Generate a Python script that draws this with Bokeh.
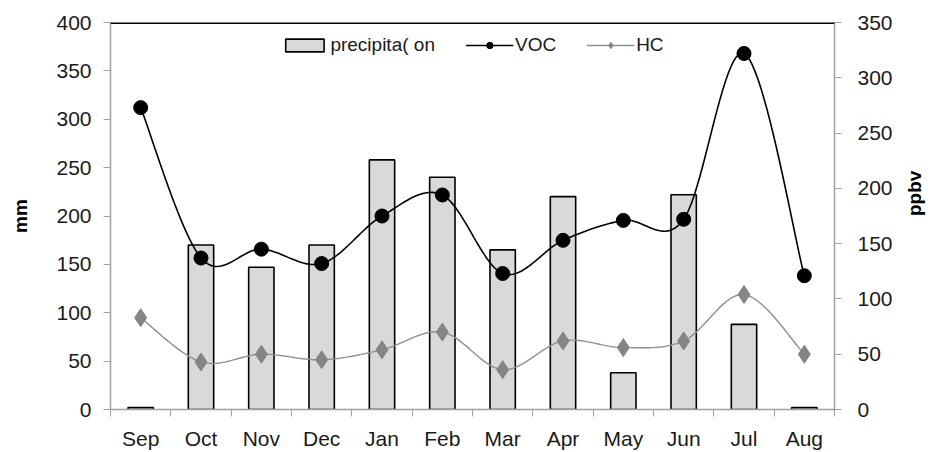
import math
import numpy as np
from bokeh.plotting import figure
from bokeh.models import (Range1d, LinearAxis, FixedTicker, Span, Legend,
                          LegendItem, ColumnDataSource)
from bokeh.embed import file_html
from bokeh.resources import INLINE

# ---- data ----
months = ["Sep", "Oct", "Nov", "Dec", "Jan", "Feb", "Mar", "Apr", "May", "Jun", "Jul", "Aug"]
precipitation = [2, 170, 147, 170, 258, 240, 165, 220, 38, 222, 88, 2]
voc = [273, 137, 145, 132, 175, 194, 123, 153, 171, 172, 322, 121]
hc = [83, 43, 50, 45, 54, 70, 36, 62, 56, 62, 104, 50]
mm_ticks = [0, 50, 100, 150, 200, 250, 300, 350, 400]
ppbv_ticks = [0, 50, 100, 150, 200, 250, 300, 350]

xpos = list(range(1, len(months) + 1))


def smooth(xs, ys, n=24):
    """Excel-style smoothed line (Catmull-Rom as cubic Bezier)."""
    P = np.column_stack([xs, ys]).astype(float)
    m = len(P)
    out = []
    for i in range(m - 1):
        p0 = P[i - 1] if i > 0 else P[i]
        p1 = P[i]
        p2 = P[i + 1]
        p3 = P[i + 2] if i + 2 < m else P[i + 1]
        c1 = p1 + (p2 - p0) / 6.0
        c2 = p2 - (p3 - p1) / 6.0
        t = np.linspace(0, 1, n)[:, None]
        seg = ((1 - t) ** 3) * p1 + 3 * ((1 - t) ** 2) * t * c1 + 3 * (1 - t) * t ** 2 * c2 + t ** 3 * p2
        if i > 0:
            seg = seg[1:]
        out.append(seg)
    out = np.vstack(out)
    return out[:, 0], out[:, 1]


FONT = "Liberation Sans"
TXT = "#1a1a1a"
AX = "#a0a0a0"

p = figure(width=939, height=452, output_backend="svg", toolbar_location=None,
           x_range=Range1d(0.5, 12.5), y_range=Range1d(0, 400),
           min_border_left=110, min_border_right=105, min_border_top=22, min_border_bottom=42)
p.outline_line_color = None
p.xgrid.visible = False
p.ygrid.visible = False
p.background_fill_color = "white"
p.border_fill_color = "white"

p.extra_y_ranges = {"ppbv": Range1d(0, 350)}

# bars
src = ColumnDataSource(dict(x=xpos, top=precipitation))
bars = p.vbar(x="x", top="top", width=0.42, source=src, fill_color="#d9d9d9",
              line_color="black", line_width=1.6)

# VOC
vx, vy = smooth(xpos, voc)
voc_line = p.line(vx, vy, line_color="black", line_width=1.6, y_range_name="ppbv")
voc_pts = p.scatter(xpos, voc, marker="circle", size=14, fill_color="black",
                    line_color="black", y_range_name="ppbv")

# HC
hx, hy = smooth(xpos, hc)
hc_line = p.line(hx, hy, line_color="#8f8f8f", line_width=1.4, y_range_name="ppbv")
hc_pts = p.scatter(xpos, hc, marker="diamond", size=18, fill_color="#858585",
                   line_color="#858585", y_range_name="ppbv")

# top border
p.add_layout(Span(location=400, dimension="width", line_color="black", line_width=3))

# x axis
xa = p.xaxis[0]
xa.ticker = FixedTicker(ticks=xpos, minor_ticks=[i + 0.5 for i in range(0, 13)])
xa.major_label_overrides = {i: m for i, m in zip(xpos, months)}
xa.major_tick_out = 0
xa.major_tick_in = 0
xa.minor_tick_out = 7
xa.minor_tick_in = 0
xa.minor_tick_line_color = AX
xa.axis_line_color = AX
xa.axis_line_width = 1.5
xa.major_label_text_font = FONT
xa.major_label_text_font_size = "21px"
xa.major_label_text_color = TXT
xa.major_label_standoff = 10

# left axis
ya = p.yaxis[0]
ya.ticker = FixedTicker(ticks=mm_ticks)
ya.minor_tick_line_color = None
ya.major_tick_out = 7
ya.major_tick_in = 0
ya.major_tick_line_color = AX
ya.axis_line_color = AX
ya.axis_line_width = 1.5
ya.major_label_text_font = FONT
ya.major_label_text_font_size = "21px"
ya.major_label_text_color = TXT
ya.major_label_standoff = 12
ya.axis_label = "mm"
ya.axis_label_text_font = FONT
ya.axis_label_text_font_style = "bold"
ya.axis_label_text_font_size = "19px"
ya.axis_label_text_color = "black"
ya.axis_label_standoff = 22

# right axis
ra = LinearAxis(y_range_name="ppbv", ticker=FixedTicker(ticks=ppbv_ticks))
ra.minor_tick_line_color = None
ra.major_tick_out = 7
ra.major_tick_in = 0
ra.major_tick_line_color = AX
ra.axis_line_color = AX
ra.axis_line_width = 1.5
ra.major_label_text_font = FONT
ra.major_label_text_font_size = "21px"
ra.major_label_text_color = TXT
ra.major_label_standoff = 16
ra.axis_label = "ppbv"
ra.axis_label_orientation = math.pi / 2
ra.axis_label_text_font = FONT
ra.axis_label_text_font_style = "bold"
ra.axis_label_text_font_size = "19px"
ra.axis_label_text_color = "black"
ra.axis_label_standoff = 19
p.add_layout(ra, "right")

legend = Legend(items=[
    LegendItem(label="precipita( on", renderers=[bars]),
    LegendItem(label="VOC", renderers=[voc_line, voc_pts]),
    LegendItem(label="HC", renderers=[hc_line, hc_pts]),
], orientation="horizontal", location="top_center")
legend.border_line_color = None
legend.background_fill_alpha = 0
legend.label_text_font = FONT
legend.label_text_font_size = "19px"
legend.label_text_color = TXT
legend.glyph_width = 48
legend.glyph_height = 16
legend.label_standoff = 2
legend.spacing = 30
legend.margin = 12
legend.padding = 4
p.add_layout(legend, "center")

open("out.html", "w").write(file_html(p, INLINE))
